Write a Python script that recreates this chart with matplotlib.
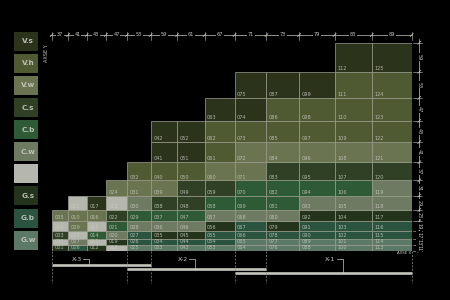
import numpy as np
import matplotlib.pyplot as plt
from matplotlib.patches import Rectangle

# column widths (top scale) and row heights (right scale, bottom -> top)
col_widths = [37, 41, 43, 47, 53, 59, 61, 67, 71, 73, 79, 83, 89]
row_heights = [11, 13, 17, 19, 23, 29, 31, 37, 41, 43, 47, 53, 59]

# category of every cell, one list per column, bottom -> top
columns = [
    ['Gs', 'X', 'Cs', 'X', 'Vw'],
    ['Gb', 'Cw', 'X', 'Vw', 'Vw', 'X'],
    ['Gs', 'X', 'Cb', 'X', 'Vw', 'Vs'],
    ['X', 'Gs', 'Cw', 'Cb', 'Cs', 'X', 'Vw'],
    ['Gw', 'Gb', 'Gb', 'Cw', 'Cb', 'Cw', 'Vw', 'Vh'],
    ['Gw', 'Gb', 'Gs', 'Cw', 'Cb', 'Cs', 'Vw', 'Vh', 'Vs', 'Vs'],
    ['Gw', 'Gb', 'Gs', 'Cw', 'Cb', 'Cs', 'Cs', 'Vh', 'Vs', 'Vs'],
    ['Gw', 'Gb', 'Gb', 'Gs', 'Cw', 'Cb', 'Cs', 'Vw', 'Vh', 'Vh', 'Vs'],
    ['Gw', 'Gw', 'Gb', 'Gb', 'Cw', 'Cb', 'Cb', 'Vw', 'Vw', 'Vh', 'Vs', 'Vs'],
    ['Gw', 'Gw', 'Gb', 'Gs', 'Cw', 'Cb', 'Cb', 'Cs', 'Vw', 'Vh', 'Vh', 'Vs'],
    ['Gw', 'Gw', 'Gb', 'Gb', 'Gs', 'Cw', 'Cb', 'Cs', 'Vw', 'Vh', 'Vh', 'Vs'],
    ['Gw', 'Gw', 'Gb', 'Gb', 'Gs', 'Cw', 'Cb', 'Cs', 'Vw', 'Vh', 'Vh', 'Vh', 'Vs'],
    ['Gw', 'Gw', 'Gb', 'Gb', 'Gs', 'Cw', 'Cw', 'Cs', 'Vw', 'Vh', 'Vh', 'Vh', 'Vs'],
]

legend_keys = ['Vs', 'Vh', 'Vw', 'Cs', 'Cb', 'Cw', 'X', 'Gs', 'Gb', 'Gw']
legend_labels = ['V.s', 'V.h', 'V.w', 'C.s', 'C.b', 'C.w', '', 'G.s', 'G.b', 'G.w']
colors = {
    'Vs': '#2b331b', 'Vh': '#4f5a33', 'Vw': '#6a7450',
    'Cs': '#2f4024', 'Cb': '#2f5a36', 'Cw': '#6f7a63',
    'X': '#b5b7ae',
    'Gs': '#24341c', 'Gb': '#2a5440', 'Gw': '#5b7966',
}

# spans under the grid: name, first column, last column (1-based)
span_names = ['X-3', 'X-2', 'X-1']
span_first = [1, 5, 9]
span_last = [5, 9, 13]
leader_frac = [0.38, 0.49, 0.61]

fg = '#c8cabf'
xs = np.concatenate([[0], np.cumsum(col_widths)])
ys = np.concatenate([[0], np.cumsum(row_heights)])
W, H = xs[-1], ys[-1]

fig = plt.figure(figsize=(4.5, 3), dpi=100, facecolor='black')
ax = fig.add_axes([51.7 / 450, 49.3 / 300, 360 / 450, 208 / 300])
ax.set_xlim(0, W)
ax.set_ylim(0, H)
ax.axis('off')

# cells
n = 0
for i, col in enumerate(columns):
    for j, key in enumerate(col):
        n += 1
        ax.add_patch(Rectangle((xs[i], ys[j]), col_widths[i], row_heights[j],
                               facecolor=colors[key], edgecolor='#9da090',
                               linewidth=0.5, alpha=1))
        ax.annotate('%03d' % n, xy=(xs[i], ys[j]), xytext=(1.8, 0.6),
                    textcoords='offset points', fontsize=3.6, color=fg,
                    alpha=0.85, ha='left', va='bottom')

# top scale
py = H / 208.0      # data units per pixel (y)
px = W / 360.0      # data units per pixel (x)
ty = H + 7.7 * py
ax.plot([-2 * px, W], [ty, ty], color=fg, lw=0.5, clip_on=False)
for x in xs:
    ax.plot([x, x], [H + 2.5 * py, H + 11 * py], color=fg, lw=0.4, clip_on=False)
    ax.plot([x - 1.5 * px, x + 1.5 * px], [ty - 1.5 * py, ty + 1.5 * py],
            color=fg, lw=0.5, clip_on=False)
for i, w in enumerate(col_widths):
    ax.text(xs[i] + w / 2, ty, str(w), fontsize=3.6, color=fg, ha='center',
            va='center', clip_on=False,
            bbox=dict(facecolor='black', edgecolor='none', pad=0.6))

# right scale
rx = W + 7.6 * px
ax.plot([rx, rx], [0, H + 4 * py], color=fg, lw=0.5, clip_on=False)
for y in ys:
    ax.plot([W + 1.5 * px, W + 10 * px], [y, y], color=fg, lw=0.4, clip_on=False)
    ax.plot([rx - 1.5 * px, rx + 1.5 * px], [y - 1.5 * py, y + 1.5 * py],
            color=fg, lw=0.5, clip_on=False)
for j, h in enumerate(row_heights):
    ax.text(rx, ys[j] + h / 2, str(h), fontsize=3.6, color=fg, ha='center',
            va='center', rotation=270, clip_on=False,
            bbox=dict(facecolor='black', edgecolor='none', pad=0.4))

ax.text(-5 * px, H - 10 * py, 'AXSE Y', fontsize=3.6, color=fg, rotation=90,
        ha='center', va='center', clip_on=False)
ax.text(W - 1 * px, -2.8 * py, 'AXSE X', fontsize=2.8, color=fg,
        ha='right', va='center', clip_on=False)

# spans under the grid
for k, name in enumerate(span_names):
    x0 = xs[span_first[k] - 1]
    x1 = xs[span_last[k]]
    y = -(14 + 4.3 * k) * py
    ax.plot([x0, x1], [y, y], color='#c4c6bc', lw=1.9, solid_capstyle='butt',
            clip_on=False)
    lx = x0 + leader_frac[k] * (x1 - x0)
    ly = y + 5.4 * py + 4.3 * k * py
    ax.plot([lx - 6 * px, lx, lx], [ly, ly, y], color=fg, lw=0.5, clip_on=False)
    ax.text(lx - 7.5 * px, ly, name, fontsize=4.6, color=fg, ha='right',
            va='center', clip_on=False)
for x in sorted(set([xs[f - 1] for f in span_first] + [xs[l] for l in span_last])):
    ax.plot([x, x], [0, -32 * py], color='#8a8a84', lw=0.5, ls=(0, (3, 2)),
            clip_on=False)

# legend boxes
lg = fig.add_axes([0, 0, 1, 1])
lg.set_xlim(0, 450)
lg.set_ylim(300, 0)
lg.axis('off')
lg.patch.set_alpha(0)
for i, key in enumerate(legend_keys):
    top = 31.7 + i * 22.1
    lg.add_patch(Rectangle((14, top), 24.3, 19, facecolor=colors[key],
                           edgecolor='none'))
    lg.text(28, top + 9.5, legend_labels[i], fontsize=5.2, fontweight='bold',
            color=fg, alpha=0.9, ha='center', va='center')

fig.savefig('out.png', dpi=100, facecolor='black')
